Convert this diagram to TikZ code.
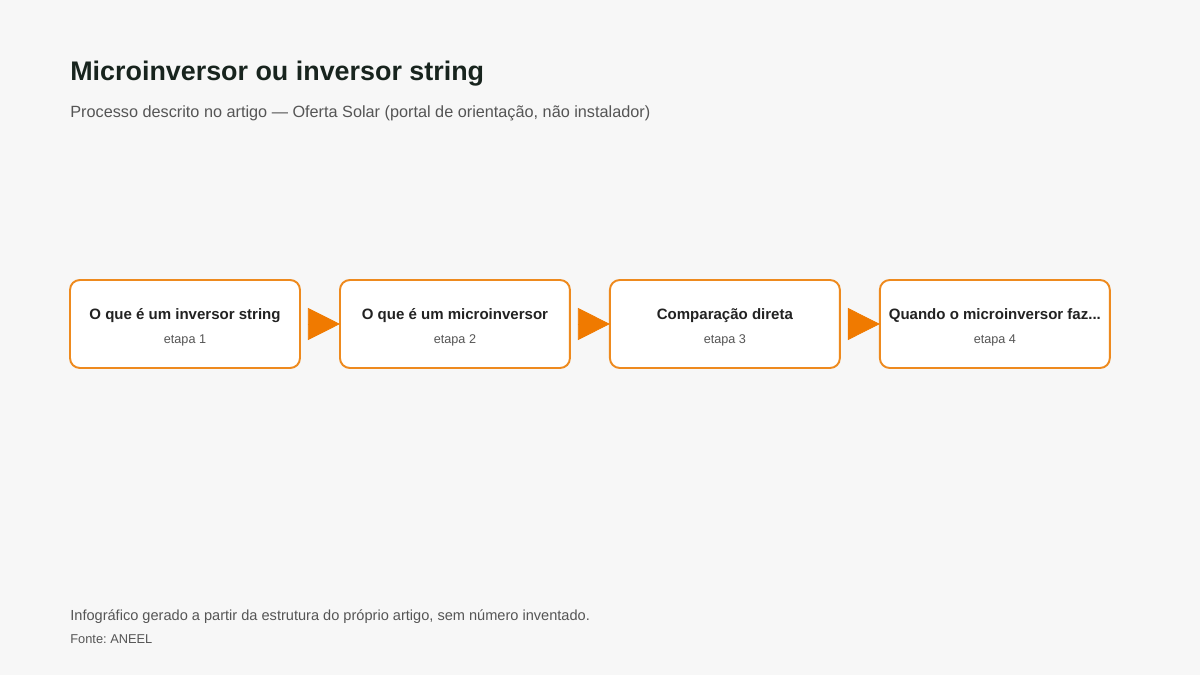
\documentclass[tikz,border=0pt]{standalone}
\usepackage{fontspec}
\setmainfont{Liberation Sans}
\usetikzlibrary{arrows.meta, positioning}
\frenchspacing
\definecolor{fundo}{HTML}{F7F7F7}
\definecolor{laranja}{HTML}{EE8A1E}
\definecolor{seta}{HTML}{F07A00}
\definecolor{titulo}{HTML}{18241E}
\definecolor{cinza}{HTML}{555555}
\definecolor{texto}{HTML}{222222}
\newcommand{\etnumfont}{\fontsize{7.2}{13}\selectfont\mdseries\color{cinza}}
\newcommand{\etapa}[2]{\rule{0pt}{10.2pt}#1\\[0.6pt]{\etnumfont etapa #2}}
\tikzset{
  etbox/.style ={draw=laranja, fill=white, line width=1.1pt, rounded corners=5.6pt,
                 minimum width=4.6cm, minimum height=1.76cm, inner sep=0pt, outer sep=0pt,
                 align=center, text=texto, font=\fontsize{8.55}{13}\selectfont\bfseries},
  avanco/.style ={-{Triangle[length=0.64cm, width=0.64cm]}, seta, line width=0.4pt,
                  shorten <=0.16cm},
  capt/.style   ={anchor=base west, inner sep=0pt},
}
\begin{document}
\begin{tikzpicture}[x=0.02cm, y=-0.02cm]
  \fill[fundo] (0,0) rectangle (1200,675);
  \useasboundingbox (0,0) rectangle (1200,675);
  % ---- header
  \node[capt, text=titulo, font=\fontsize{15.3}{18}\selectfont\bfseries] (tit) at (70,81)
    {Microinversor ou inversor string};
  \node[capt, text=cinza, font=\fontsize{9.25}{11}\selectfont] (sub) at (70,118)
    {Processo descrito no artigo — Oferta Solar (portal de orientação, não instalador)};
  % ---- steps
  \node[etbox] (et1) at (185,324) {\etapa{O que é um inversor string}{1}};
  \node[etbox, right=0.8cm of et1] (et2) {\etapa{O que é um microinversor}{2}};
  \node[etbox, right=0.8cm of et2] (et3) {\etapa{Comparação direta}{3}};
  \node[etbox, right=0.8cm of et3] (et4) {\etapa{Quando o microinversor faz...}{4}};
  \draw[avanco] (et1) -- (et2);
  \draw[avanco] (et2) -- (et3);
  \draw[avanco] (et3) -- (et4);
  % ---- footer
  \node[capt, text=cinza, font=\fontsize{8.3}{10}\selectfont] (nota) at (70,620)
    {Infográfico gerado a partir da estrutura do próprio artigo, sem número inventado.};
  \node[capt, text=cinza, font=\fontsize{7.3}{9}\selectfont] (fonte) at (70,643)
    {Fonte: ANEEL};
\end{tikzpicture}
\end{document}
